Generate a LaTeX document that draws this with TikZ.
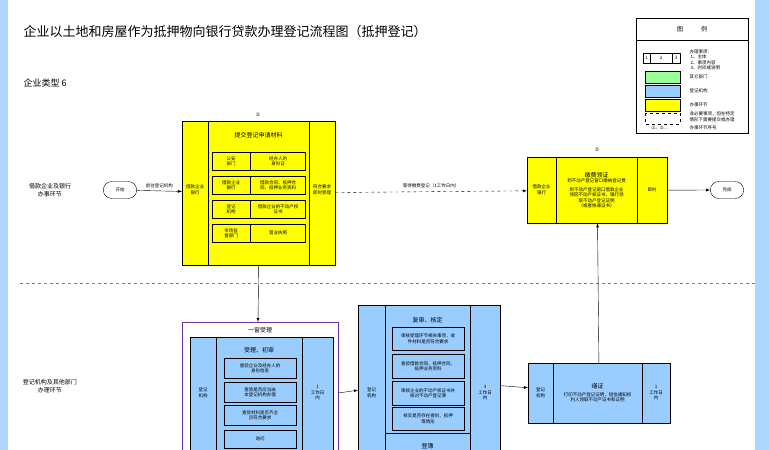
\documentclass[tikz,border=0pt]{standalone}
\usepackage{fontspec}
\setmainfont{Noto Sans CJK SC}
\newfontfamily\symfont{DejaVu Sans}
\usetikzlibrary{arrows,positioning,shapes}
\definecolor{myyellow}{RGB}{255,255,0}
\definecolor{myblue}{RGB}{153,204,255}
\definecolor{mygreen}{RGB}{153,255,153}
\definecolor{mypurple}{RGB}{112,48,160}
\newcommand\tinyfont{\fontsize{4.5}{5.5}\selectfont}
\newcommand\mybox[6]{% fill, name, x1, y1, x2, y2
  \node[draw,fill=#1,minimum width=\the\dimexpr#5pt-#3pt\relax,minimum height=\the\dimexpr#6pt-#4pt\relax,inner sep=0pt,anchor=north west] (#2) at (#3,#4) {};
}
\newcommand\myrow[5]{% name, y1, y2, left, right
  \node[draw,minimum width=38pt,minimum height=\the\dimexpr#3pt-#2pt\relax,inner sep=0pt,anchor=north west,align=center,font=\tinyfont] (#1a) at (\xa,#2) {#4};
  \node[draw,minimum width=55pt,minimum height=\the\dimexpr#3pt-#2pt\relax,inner sep=0pt,anchor=north west,align=center,font=\tinyfont] (#1b) at (#1a.north east) {#5};
}
\newcommand\mywide[5]{% name, x1, y1, y2, text
  \node[draw,minimum width=72pt,minimum height=\the\dimexpr#4pt-#3pt\relax,inner sep=0pt,anchor=north west,align=center,font=\tinyfont,text width=66pt] (#1) at (#2,#3) {#5};
}

\begin{document}
\begin{tikzpicture}[x=1pt,y=-1pt,>=latex,
lbl/.style={font=\tinyfont,align=center},
term/.style={draw,rounded rectangle,minimum width=40pt,minimum height=17pt,font=\tinyfont,fill=white}
]
\fill[myblue!80] (0,0) rectangle (769,450);
\fill[white] (8,0) rectangle (755,450);
\useasboundingbox (0,0) rectangle (769,450);

\node[anchor=west,font=\fontsize{13}{15}\selectfont] (title) at (20,32) {企业以土地和房屋作为抵押物向银行贷款办理登记流程图（抵押登记）};
\node[anchor=west,font=\fontsize{9}{11}\selectfont] (type) at (20,83) {企业类型 6};

% legend
\draw (636,18) rectangle (748,133);
\draw (636,40) -- (748,40);
\node[font=\fontsize{6}{7}\selectfont] (lgtitle) at (692,29) {图\qquad\quad 例};
\draw (643,53) rectangle (680,63);
\draw (650,53) -- (650,63) (672,53) -- (672,63);
\node[font=\tinyfont] at (646.5,58) {1};
\node[font=\tinyfont] at (661,58) {2};
\node[font=\tinyfont] at (676,58) {3};
\node[lbl,anchor=west,align=left] (lg1) at (686,60) {办理事项：\\\ 1、主体\\\ 2、事项内容\\\ 3、时间或说明};
\draw[fill=mygreen] (645,71) rectangle (680,83);
\node[lbl,anchor=west] (lg2) at (686,77) {其它部门};
\draw[fill=myblue] (645,85) rectangle (680,97);
\node[lbl,anchor=west] (lg3) at (686,91) {登记机构};
\draw[fill=myyellow] (645,99) rectangle (680,111);
\node[lbl,anchor=west] (lg4) at (686,105) {办事环节};
\draw[dashed,thick] (645,113) rectangle (680,124);
\node[lbl,anchor=west,align=left] (lg5) at (686,117) {非必要事项，但在特定\\情形下需要提交或办理};
\node[lbl] (lg6) at (660,128) {{\symfont ①}、{\symfont ②}…};
\node[lbl,anchor=west] (lg7) at (686,128) {办事环节序号};

% lanes
\node[font=\fontsize{6}{8}\selectfont,align=center] (lane1) at (50,190) {借款企业及银行\\办事环节};
\node[font=\fontsize{6}{8}\selectfont,align=center] (lane2) at (50,386) {登记机构及其他部门\\办理环节};
\draw[dashed,gray] (20,283) -- (755,283);

\node[term] (start) at (120,190) {开始};
\node[term] (done) at (727,190) {完成};

% step 1
\mybox{myyellow}{s1}{182}{121}{335}{265}
\draw (208,121) -- (208,265) (309,121) -- (309,265);
\node[lbl] (s1l) at (195,190) {借款企业\\银行};
\node[lbl] (s1r) at (322,190) {符合要求\\即时受理};
\node[font=\fontsize{6}{7}\selectfont] (s1h) at (258.5,135) {提交登记申请材料};
\node[font=\fontsize{5}{6}\symfont] (n1) at (258,115) {①};
\def\xa{212}
\myrow{r1}{152}{170}{公安\\部门}{经办人的\\身份证}
\myrow{r2}{176}{194}{借款企业\\银行}{借款合同、抵押合\\同、抵押业务资料}
\myrow{r3}{200}{218}{登记\\机构}{借款企业的不动产权\\证书}
\myrow{r4}{224}{242}{市场监\\督部门}{营业执照}

% step 2
\mybox{myyellow}{s2}{527}{157}{667}{223}
\draw (556,157) -- (556,223) (637,157) -- (637,223);
\node[lbl] (s2l) at (541.5,190) {借款企业\\银行};
\node[lbl] (s2r) at (652,190) {即时};
\node[lbl] (s2m) at (596.5,190) {{\fontsize{6}{7}\selectfont 缴费领证}\\到不动产登记窗口缴纳登记费\\[3pt]到不动产登记窗口借款企业\\领回不动产权证书，银行领\\取不动产登记证明\\（或者快递证书）};
\node[font=\fontsize{5}{6}\symfont] (n2) at (597,150) {②};

% window
\draw[mypurple] (182,322) rectangle (338,455);
\node[font=\fontsize{6}{7}\selectfont] (win) at (260,330) {一窗受理};
\mybox{myblue}{s3}{190}{337}{333}{455}
\draw (216,337) -- (216,455) (302,337) -- (302,455);
\node[lbl] (s3l) at (203,393) {登记\\机构};
\node[lbl] (s3r) at (317.5,393) {1\\工作日\\内};
\node[font=\fontsize{6}{7}\selectfont] (s3h) at (259,350) {受理、初审};
\mywide{q1}{224}{358}{378}{查验企业及经办人的\\身份信息}
\mywide{q2}{224}{382}{402}{查验是否应当由\\本登记机构办理}
\mywide{q3}{224}{405}{425}{查验材料是否齐全\\且符合要求}
\mywide{q4}{224}{430}{448}{询问}

% review
\mybox{myblue}{s4}{358}{305}{500}{455}
\draw (385,305) -- (385,455) (470,305) -- (470,455) (385,433) -- (470,433);
\node[lbl] (s4l) at (371.5,393) {登记\\机构};
\node[lbl] (s4r) at (485,393) {3\\工作日\\内};
\node[font=\fontsize{6}{7}\selectfont] (s4h) at (427.5,320) {复审、核定};
\mywide{p1}{392}{327}{350}{审核受理环节相关事项，收\\件材料是否符合要求}
\mywide{p2}{392}{354}{378}{查验借款合同、抵押合同、\\抵押业务资料}
\mywide{p3}{392}{381}{405}{审核企业的不动产权证书并\\核对不动产登记簿}
\mywide{p4}{392}{407}{430}{核实是否存在查封、抵押\\等情形}
\node[font=\fontsize{6}{7}\selectfont] (s4b) at (427.5,446) {登簿};

% certificate
\mybox{myblue}{s5}{528}{363}{670}{423}
\draw (553,363) -- (553,423) (642,363) -- (642,423);
\node[lbl] (s5l) at (540.5,393) {登记\\机构};
\node[lbl] (s5r) at (656,393) {1\\工作日\\内};
\node[lbl] (s5m) at (597.5,393) {{\fontsize{6}{7}\selectfont 缮证}\\[2pt]打印不动产登记证明，短信通知权\\利人领取不动产证书和证明};

% connectors
\draw[->] (start) -- node[lbl,above] {前往登记机构} (s1);
\draw[->,dashed] (s1) -- node[lbl,above] {等待缴费登记（1工作日内）} (s2);
\draw[->] (s2) -- (done);
\draw[->] (s1.south) -- (258,322);
\draw[->] (338,393) -- (s4);
\draw[->] (s4) -- (s5);
\draw[->] (s5) -- (s2);
\end{tikzpicture}
\end{document}
